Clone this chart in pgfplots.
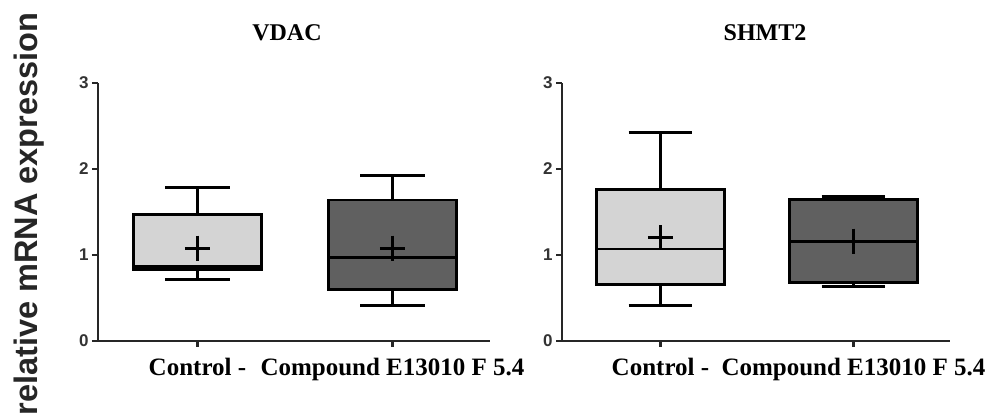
\documentclass[border=0pt]{standalone}
\usepackage{pgfplots}
\pgfplotsset{compat=1.18}
\usepgfplotslibrary{statistics}
\usepackage{fontspec}
\setmainfont{Liberation Serif}
\newfontfamily\arialfont{Liberation Sans}
\definecolor{ctrl}{HTML}{D4D4D4}
\definecolor{comp}{HTML}{606060}
\pgfplotsset{
  gpstyle/.style={
    scale only axis, height=258pt,
    xmin=0.49, xmax=2.5, ymin=0, ymax=3,
    axis x line=bottom, axis y line=left,
    axis line style={-, line width=2.8pt, black!85},
    xtick={1,2}, xticklabels={Control -, Compound E13010 F 5.4},
    ytick={0,1,2,3},
    tick align=outside,
    major tick length=6pt,
    tick style={line width=2.4pt, black!85},
    xticklabel style={font=\fontsize{25}{28}\selectfont\bfseries, yshift=-8pt},
    yticklabel style={font=\fontsize{17}{20}\selectfont\arialfont\bfseries, text=black!80},
    /pgf/number format/assume math mode=true,
    title style={font=\fontsize{24}{27}\selectfont\bfseries, anchor=base, at={(0.5,1)}, yshift=36pt},
    boxplot/draw direction=y,
    boxplot/box extend=0.66,
    boxplot/whisker extend=0.33,
    boxplot/draw/median/.code={\draw[line width=2.9pt, black] (boxplot box cs:\pgfplotsboxplotvalue{median},0) -- (boxplot box cs:\pgfplotsboxplotvalue{median},1);},
    clip=false,
  },
  bx/.style={draw=black, line width=2.9pt},
  mn/.style={only marks, mark=+, mark size=12.5pt, line width=2.9pt, black, mark options={line cap=butt}},
}
\begin{document}
\begin{tikzpicture}
\path[use as bounding box] (0,0) rectangle (994pt,419pt);
\node[rotate=90, anchor=base, font=\arialfont\bfseries\fontsize{32.5}{36}\selectfont, text=black!85] at (37pt,205pt) {relative mRNA expression};

\begin{axis}[gpstyle, width=392pt, at={(98pt,78pt)}, anchor=south west, title={VDAC}, title style={xshift=-7pt}]
\addplot[bx, fill=ctrl, boxplot prepared={draw position=1, median=0.87, upper quartile=1.47, lower quartile=0.83, upper whisker=1.78, lower whisker=0.72}] coordinates {};
\addplot[mn] coordinates {(1,1.08)};
\addplot[bx, fill=comp, boxplot prepared={draw position=2, median=0.97, upper quartile=1.64, lower quartile=0.60, upper whisker=1.92, lower whisker=0.41}] coordinates {};
\addplot[mn] coordinates {(2,1.08)};
\end{axis}

\begin{axis}[gpstyle, width=388pt, at={(562pt,78pt)}, anchor=south west, title={SHMT2}, title style={xshift=9pt}]
\addplot[bx, fill=ctrl, boxplot prepared={draw position=1, median=1.07, upper quartile=1.76, lower quartile=0.66, upper whisker=2.42, lower whisker=0.41}] coordinates {};
\addplot[mn] coordinates {(1,1.20)};
\addplot[bx, fill=comp, boxplot prepared={draw position=2, median=1.16, upper quartile=1.65, lower quartile=0.68, upper whisker=1.68, lower whisker=0.63}] coordinates {};
\addplot[mn] coordinates {(2,1.16)};
\end{axis}
\end{tikzpicture}
\end{document}
